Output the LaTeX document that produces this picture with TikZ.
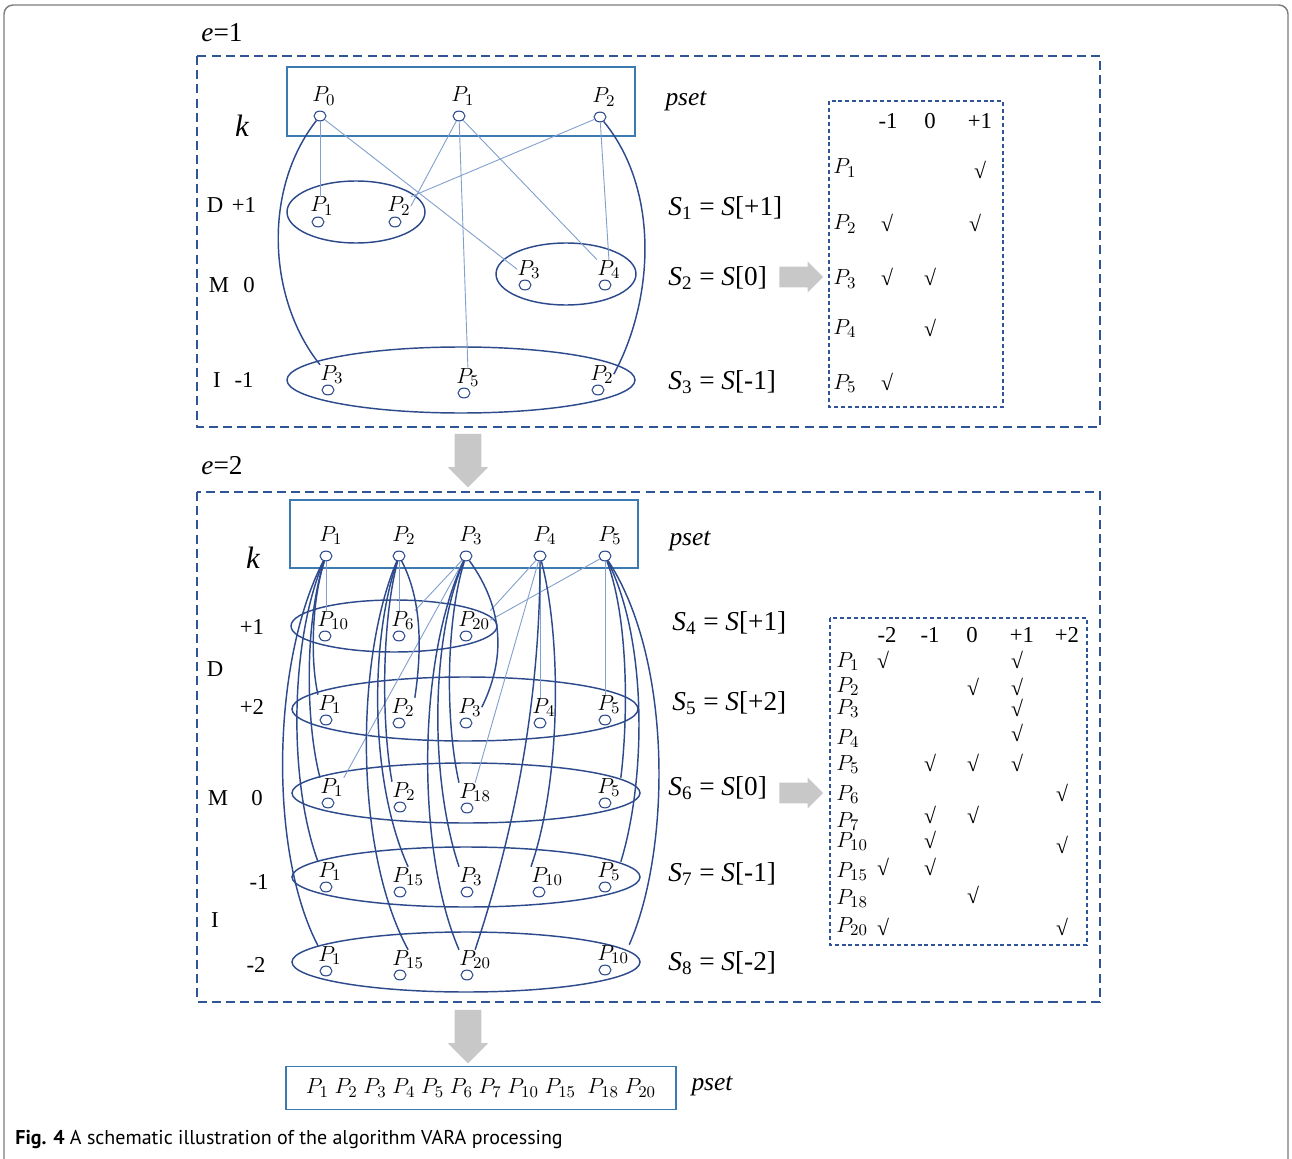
\documentclass[tikz,border=0pt]{standalone}
\usepackage{fontspec}
\setmainfont{Liberation Serif}
\newfontfamily\capfont{PT Sans}
\usetikzlibrary{shapes.geometric,shapes.arrows}
\definecolor{dashblue}{RGB}{47,85,151}
\definecolor{boxblue}{RGB}{60,122,178}
\definecolor{linkblue}{RGB}{45,75,140}
\definecolor{faintblue}{RGB}{130,160,205}
\definecolor{arrowgray}{RGB}{200,200,200}
\definecolor{framegray}{RGB}{125,125,125}
\begin{document}
\begin{tikzpicture}[x=0.55pt,y=-0.55pt,font=\fontsize{12.5}{14}\selectfont,
  pdot/.style={draw=linkblue,line width=0.6pt,ellipse,minimum width=6.6pt,minimum height=5.4pt,inner sep=0pt},
  plab/.style={anchor=base west,inner sep=0pt},
  setring/.style={draw=linkblue,line width=0.8pt},
  link/.style={draw=linkblue,line width=0.8pt},
  faint/.style={draw=faintblue,line width=0.5pt},
  dashbox/.style={draw=dashblue,line width=1.1pt,dash pattern=on 5pt off 2.8pt},
  tabbox/.style={draw=dashblue,line width=0.6pt,dash pattern=on 2.2pt off 1.6pt},
  psetbox/.style={draw=boxblue,line width=0.8pt},
  slab/.style={anchor=west,inner sep=0pt,font=\fontsize{15}{17}\selectfont},
  side/.style={inner sep=0pt,font=\fontsize{12.5}{14}\selectfont},
  chk/.style={inner sep=0pt,font=\fontsize{12}{13}\selectfont},
  rowlab/.style={anchor=base west,inner sep=0pt},
  rarrow/.style={single arrow,fill=arrowgray,draw=none,minimum height=24pt,inner sep=5.5pt,single arrow head extend=2.8pt},
  darrow/.style={single arrow,shape border rotate=270,fill=arrowgray,draw=none,minimum height=29.5pt,inner sep=7.1pt,single arrow head extend=3.9pt}]
\useasboundingbox (0,0) rectangle (1292,1159);
\draw[framegray,line width=0.8pt,rounded corners=5pt] (4,5) rectangle (1288,1180);

% ---- e=1 ----
\node[side,font=\fontsize{15}{17}\selectfont] (e1) at (222,33) {\textit{e}=1};
\draw[dashbox] (197,56) rectangle (1100,427);
\draw[psetbox] (287,67) rectangle (635,136);
\node[side,font=\fontsize{14}{16}\selectfont\itshape] (pset1) at (686,101) {pset};
\node[side,font=\fontsize{17}{17}\selectfont\itshape] (k1) at (242,126) {k};
\node[side] (D1) at (215,205) {D};
\node[side] (d1) at (244,205) {+1};
\node[side] (M1) at (219,285) {M};
\node[side] (m1) at (249,285) {0};
\node[side] (I1) at (217,380) {I};
\node[side] (i1) at (244,380) {-1};
\foreach \n/\x/\y/\t in {p0/320/116/0,p1/459/116/1,p2/600/117/2}{
  \node[pdot] (\n) at (\x,\y) {};
  \node[plab] (L\n) at (\x-8,\y-14) {$P_{\t}$};
}
\draw[setring] (356,212) ellipse (69 and 31);
\draw[setring] (566,274) ellipse (70 and 31);
\draw[setring] (461,380) ellipse (174 and 33);
\foreach \n/\x/\y/\t in {a1/318/222/1,a2/395/222/2,b3/525/285/3,b4/605/285/4,c3/328/390/3,c5/464/393/5,c2/598/390/2}{
  \node[pdot] (\n) at (\x,\y) {};
  \node[plab] (L\n) at (\x-8,\y-10) {$P_{\t}$};
}
\draw[faint] (p0) -- (p0 |- La1.north);
\draw[faint] (p0) -- (Lb3.west);
\draw[faint] (p1) -- (La2.east);
\draw[faint] (p1) -- (Lb4.north west);
\draw[faint] (p1) -- (Lc5.north);
\draw[faint] (p2) -- (La2.north east);
\draw[faint] (p2) -- (Lb4.north);
\draw[link] (p0) .. controls (262,190) and (268,300) .. (Lc3.north west);
\draw[link] (p2) .. controls (660,190) and (654,300) .. (Lc2.east);
\node[slab] (S1) at (668,208) {\textit{S}\textsubscript{1} = \textit{S}[+1]};
\node[slab] (S2) at (668,278) {\textit{S}\textsubscript{2} = \textit{S}[0]};
\node[slab] (S3) at (668,382) {\textit{S}\textsubscript{3} = \textit{S}[-1]};
\node[rarrow] (ar1) at (796,277) {};
% table e=1
\draw[tabbox] (829,101) rectangle (1003,407);
\foreach \h/\x in {-1/888,0/930,+1/980} \node[side] (ha\x) at (\x,121) {\h};
\foreach \t/\y in {1/167,2/223,3/278,4/327,5/382} \node[rowlab] (ra\t) at (833,\y+7) {$P_{\t}$};
\foreach \x/\y in {980/170,887/223,975/223,887/277,930/277,930/328,887/382} \node[chk] (ca\x\y) at (\x,\y) {√};

\node[darrow] (dn1) at (468,454) {};

% ---- e=2 ----
\node[side,font=\fontsize{15}{17}\selectfont] (e2) at (222,466) {\textit{e}=2};
\draw[dashbox] (197,492) rectangle (1100,1002);
\draw[psetbox] (290,500) rectangle (638,568);
\node[side,font=\fontsize{14}{16}\selectfont\itshape] (pset2) at (690,541) {pset};
\node[side,font=\fontsize{17}{17}\selectfont\itshape] (k2) at (253,558) {k};
\node[side] (d41) at (252,627) {+1};
\node[side] (D2) at (215,669) {D};
\node[side] (d42) at (252,707) {+2};
\node[side] (M2) at (218,798) {M};
\node[side] (m2) at (257,798) {0};
\node[side] (i21) at (259,882) {-1};
\node[side] (I2) at (215,920) {I};
\node[side] (i22) at (256,965) {-2};
\foreach \n/\x/\y/\t in {q1/326/556/1,q2/399/556/2,q3/466/556/3,q4/540/556/4,q5/605/556/5}{
  \node[pdot] (\n) at (\x,\y) {};
  \node[plab] (L\n) at (\x-7,\y-15) {$P_{\t}$};
}
\draw[setring] (394,626) ellipse (103 and 26);
\draw[setring] (465,709) ellipse (173 and 32);
\draw[setring] (466,793) ellipse (174 and 30);
\draw[setring] (466,877) ellipse (174 and 30);
\draw[setring] (466,962) ellipse (174 and 30);
\foreach \n/\x/\y/\t in {r10/325/636/10,r6/399/636/6,r20/466/636/20,
  u1/326/720/1,u2/399/723/2,u3/466/723/3,u4/540/723/4,u5/605/720/5,
  v1/328/803/1,v2/400/807/2,v18/467/808/18,v5/605/803/5,
  w1/326/887/1,w15/400/892/15,w3/467/892/3,w10/539/892/10,w5/605/887/5,
  z1/326/971/1,z15/400/975/15,z20/467/975/20,z10/605/970/10}{
  \node[pdot] (\n) at (\x,\y) {};
  \node[plab] (L\n) at (\x-8,\y-10) {$P_{\t}$};
}
% faint links
\draw[faint] (q1) -- (q1 |- Lr10.north);
\draw[faint] (q2) -- (q2 |- Lr6.north);
\draw[faint] (q3) -- (Lr6.north east);
\draw[faint] (q3) -- (Lv1.north east);
\draw[faint] (q4) -- (Lr20.north east);
\draw[faint] (q4) -- (Lv18.north);
\draw[faint] (q4) -- (q4 |- Lu4.north);
\draw[faint] (q5) -- (Lr20.east);
\draw[faint] (q5) -- (q5 |- Lu5.north);
% curved links
\draw[link] (q1) .. controls (312,600) and (310,660) .. (Lu1.north west);
\draw[link] (q1) .. controls (305,620) and (305,720) .. (Lv1.north west);
\draw[link] (q1) .. controls (290,640) and (288,780) .. (Lw1.north west);
\draw[link] (q1) .. controls (272,660) and (268,850) .. (Lz1.north west);
\draw[link] (q2) .. controls (422,600) and (422,650) .. (Lu2.north east);
\draw[link] (q2) .. controls (382,620) and (381,720) .. (Lv2.north west);
\draw[link] (q2) .. controls (370,640) and (369,780) .. (Lw15.north);
\draw[link] (q2) .. controls (355,660) and (354,850) .. (Lz15.north);
\draw[link] (q3) .. controls (505,610) and (505,660) .. (Lu3.east);
\draw[link] (q3) .. controls (446,620) and (445,720) .. (Lv18.north west);
\draw[link] (q3) .. controls (430,640) and (430,780) .. (Lw3.north west);
\draw[link] (q3) .. controls (417,660) and (416,850) .. (Lz20.north west);
\draw[link] (q4) .. controls (562,640) and (561,780) .. (Lw10.north west);
\draw[link] (q4) .. controls (540,700) and (515,830) .. (Lz20.north);
\draw[link] (q5) .. controls (629,620) and (628,720) .. (Lv5.north east);
\draw[link] (q5) .. controls (648,640) and (646,780) .. (Lw5.north east);
\draw[link] (q5) .. controls (673,660) and (671,850) .. (Lz10.north east);
\node[slab] (S4) at (672,623) {\textit{S}\textsubscript{4} = \textit{S}[+1]};
\node[slab] (S5) at (672,703) {\textit{S}\textsubscript{5} = \textit{S}[+2]};
\node[slab] (S6) at (668,788) {\textit{S}\textsubscript{6} = \textit{S}[0]};
\node[slab] (S7) at (668,874) {\textit{S}\textsubscript{7} = \textit{S}[-1]};
\node[slab] (S8) at (668,963) {\textit{S}\textsubscript{8} = \textit{S}[-2]};
\node[rarrow] (ar2) at (796,793) {};
% table e=2
\draw[tabbox] (830,618) rectangle (1087,945);
\foreach \h/\x in {-2/887,-1/930,0/972,+1/1022,+2/1067} \node[side] (hb\x) at (\x,635) {\h};
\foreach \t/\y in {1/660,2/685,3/707,4/737,5/763,6/793,7/820,10/840,15/870,18/897,20/925} \node[rowlab] (rb\t) at (836,\y+7) {$P_{\t}$};
\foreach \x/\y in {883/660,1017/660,973/687,1017/687,1017/708,1017/733,930/763,973/763,1017/763,1062/793,930/815,973/815,930/840,1062/845,883/867,930/867,973/895,883/927,1062/927} \node[chk] (cb\x\y) at (\x,\y) {√};

\node[darrow] (dn2) at (468,1030) {};

% ---- result ----
\node[draw=boxblue,line width=0.8pt,minimum width=214.5pt,minimum height=23.6pt] (final) at (481,1088) {$P_1\ P_2\ P_3\ P_4\ P_5\ P_6\ P_7\ P_{10}\ P_{15}\ \ P_{18}\ P_{20}$};
\node[side,font=\fontsize{14}{16}\selectfont\itshape] (pset3) at (712,1086) {pset};
\node[anchor=base west,inner sep=0pt,font=\capfont\fontsize{11}{13}\selectfont] (cap) at (15,1144) {\textbf{Fig. 4} A schematic illustration of the algorithm VARA processing};
\end{tikzpicture}
\end{document}
